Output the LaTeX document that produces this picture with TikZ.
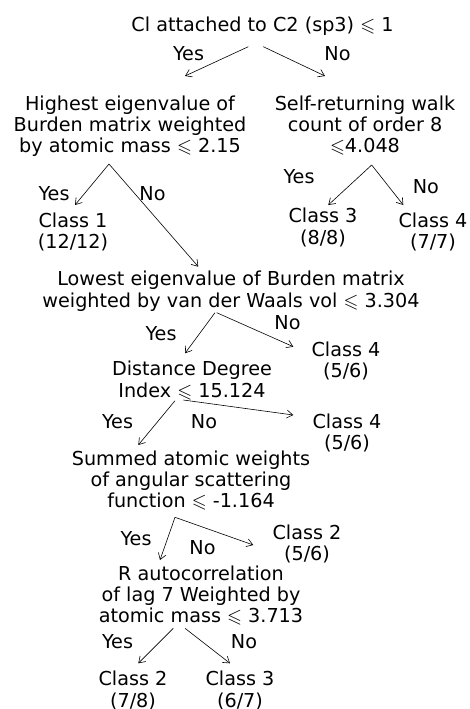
\documentclass[tikz,border=0pt]{standalone}
\usepackage{fontspec}
\usepackage{amssymb}
\setmainfont{DejaVu Sans}
\usetikzlibrary{arrows.meta,calc}
\newcommand{\lesq}{\ensuremath{\leqslant}}
\begin{document}
\begin{tikzpicture}[x=1pt,y=-1pt,
  txt/.style={inner sep=0pt, align=center, anchor=north, font=\fontsize{19.2}{21.3}\selectfont},
  lab/.style={inner sep=0pt, anchor=base, font=\fontsize{19.2}{21.3}\selectfont},
  arr/.style={-{Straight Barb[length=6pt,width=8pt]}, line width=0.6pt}]
\useasboundingbox (0,0) rectangle (469,709);
% decision nodes
\node[txt] (n1) at (262.5,17.1) {Cl attached to C2 (sp3) \lesq{} 1};
\node[txt] (n2) at (130,95.4) {Highest eigenvalue of\\Burden matrix weighted\\by atomic mass \lesq{} 2.15};
\node[txt] (n3) at (365,95.4) {Self-returning walk\\count of order 8\\\lesq4.048};
\node[txt] (c1) at (73,212.7) {Class 1\\(12/12)};
\node[txt] (c3a) at (323,208.1) {Class 3\\(8/8)};
\node[txt] (c4a) at (433,212.7) {Class 4\\(7/7)};
\node[txt] (n4) at (231,271.1) {Lowest eigenvalue of Burden matrix\\weighted by van der Waals vol \lesq{} 3.304};
\node[txt] (c4b) at (346,341.4) {Class 4\\(5/6)};
\node[txt] (n5) at (192,361.1) {Distance Degree\\Index \lesq{} 15.124};
\node[txt] (c4c) at (347,413.7) {Class 4\\(5/6)};
\node[txt] (n6) at (191,450.4) {Summed atomic weights\\of angular scattering\\function \lesq{} -1.164};
\node[txt] (c2a) at (307,524.7) {Class 2\\(5/6)};
\node[txt] (n7) at (201,565.4) {R autocorrelation\\of lag 7 Weighted by\\atomic mass \lesq{} 3.713};
\node[txt] (c2b) at (133,671.1) {Class 2\\(7/8)};
\node[txt] (c3b) at (240,671.1) {Class 3\\(6/7)};
% branch labels
\node[lab] (y1) at (188.5,60) {Yes};
\node[lab] (o1) at (337.5,60) {No};
\node[lab] (y2) at (54,200) {Yes};
\node[lab] (o2) at (152.5,200) {No};
\node[lab] (y3) at (299,183.3) {Yes};
\node[lab] (o3) at (425.8,193.3) {No};
\node[lab] (y4) at (161,340) {Yes};
\node[lab] (o4) at (287.5,329.3) {No};
\node[lab] (y5) at (117.5,428.3) {Yes};
\node[lab] (o5) at (204,428.3) {No};
\node[lab] (y6) at (136,545.7) {Yes};
\node[lab] (o6) at (202.5,554) {No};
\node[lab] (y7) at (117.5,648.3) {Yes};
\node[lab] (o7) at (244,648.3) {No};
% branch points
\coordinate (b1y) at (248.3,46.7);
\coordinate (b1n) at (263.3,46.7);
\coordinate (b2) at (109,164);
\coordinate (b3) at (371.7,165);
\coordinate (b4y) at (215,312.7);
\coordinate (b4n) at (216.7,312.7);
\coordinate (b5y) at (175,400.7);
\coordinate (b5n) at (183.3,400);
\coordinate (b6) at (175,517.3);
\coordinate (b7y) at (173.3,628.3);
\coordinate (b7n) at (185,628.3);
% connectors
\draw[arr] (b1y) -- ($(n2.north)+(55,-19.4)$);
\draw[arr] (b1n) -- ($(n3.north)+(-40,-19.4)$);
\draw[arr] (b2) -- ($(c1.north)+(2,-7.7)$);
\draw[arr] (b2) -- ($(n4.north)+(-32.7,-4.4)$);
\draw[arr] (b3) -- ($(c3a.north)+(5.3,-3.1)$);
\draw[arr] (b3) -- ($(c4a.north)+(-29.7,-7.7)$);
\draw[arr] (b4y) -- ($(n5.north)+(-7,-7.8)$);
\draw[arr] (b4n) -- ($(c4b.north)+(-52.7,5.3)$);
\draw[arr] (b5y) -- ($(n6.north)+(-52.7,-5.4)$);
\draw[arr] (b5n) -- ($(c4c.north)+(-53.7,1.3)$);
\draw[arr] (b6) -- ($(n7.north)+(-41,-5.4)$);
\draw[arr] (b6) -- ($(c2a.north)+(-53.7,20.3)$);
\draw[arr] (b7y) -- ($(c2b.north)+(5.3,-7.8)$);
\draw[arr] (b7n) -- ($(c3b.north)+(-10,-7.8)$);
\end{tikzpicture}
\end{document}
